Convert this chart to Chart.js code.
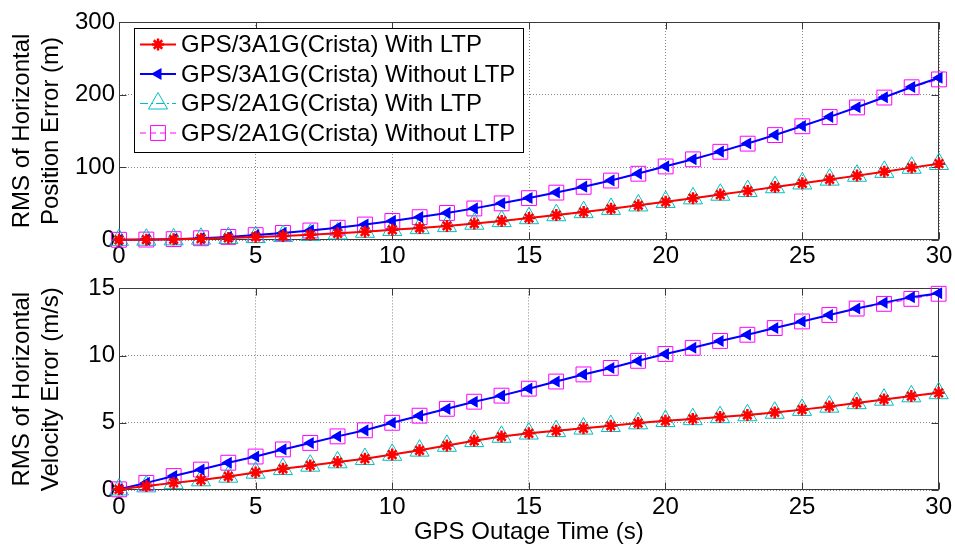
<!DOCTYPE html>
<html>
<head>
<meta charset="utf-8">
<script src="https://cdn.jsdelivr.net/npm/chart.js@4.4.1/dist/chart.umd.min.js"></script>
<style>
  html, body { margin: 0; padding: 0; background: #fff; }
  #wrap { position: relative; width: 955px; height: 546px; }
  canvas { position: absolute; left: 0; }
  #posChart { top: 0; }
  #velChart { top: 270px; }
</style>
</head>
<body>
<div id="wrap">
  <canvas id="posChart" width="955" height="270"></canvas>
  <canvas id="velChart" width="955" height="276"></canvas>
</div>
<script>
// GPS outage time, seconds
const outageTime = [0,1,2,3,4,5,6,7,8,9,10,11,12,13,14,15,16,17,18,19,20,21,22,23,24,25,26,27,28,29,30];

const seriesLabels = [
  'GPS/3A1G(Crista) With LTP',
  'GPS/3A1G(Crista) Without LTP',
  'GPS/2A1G(Crista) With LTP',
  'GPS/2A1G(Crista) Without LTP'
];

// RMS of horizontal position error (m)
const posLtp3   = [0.2,0.5,1.0,1.8,2.8,4.2,5.6,7.2,9.2,11.5,14.0,16.5,19.3,22.6,26.3,30.2,34.3,38.5,43.0,47.8,52.6,57.5,62.5,67.6,72.8,78.0,83.3,88.6,94.0,99.6,105.0];
const posNoLtp3 = [0.3,0.6,1.2,2.4,4.2,6.8,9.8,13.2,17.0,21.4,26.3,31.5,37.3,43.5,50.6,57.8,65.4,73.4,82.0,91.4,101.4,111.2,121.6,132.8,144.6,156.8,169.5,182.7,196.4,210.6,223.2];
const posLtp2   = [0.2,0.4,0.9,1.7,2.7,4.0,5.4,7.0,9.0,11.3,13.8,16.3,19.1,22.4,26.0,30.0,34.1,38.3,42.8,47.6,52.4,57.3,62.3,67.4,72.6,77.8,83.1,88.4,93.8,99.4,104.6];
const posNoLtp2 = [0.3,0.6,1.2,2.4,4.2,6.7,9.7,13.1,16.9,21.3,26.2,31.4,37.2,43.4,50.4,57.6,65.2,73.2,81.8,91.2,101.2,111.0,121.4,132.6,144.4,156.5,169.2,182.4,196.0,210.2,221.0];

// RMS of horizontal velocity error (m/s)
const velLtp3   = [0.05,0.29,0.53,0.74,1.01,1.31,1.58,1.83,2.08,2.33,2.64,2.95,3.31,3.66,3.98,4.22,4.40,4.59,4.78,4.98,5.15,5.29,5.44,5.58,5.77,5.98,6.22,6.48,6.74,6.99,7.23];
const velNoLtp3 = [0.05,0.53,1.04,1.52,2.03,2.49,3.02,3.50,3.99,4.44,5.00,5.53,6.04,6.57,7.02,7.54,8.07,8.60,9.08,9.61,10.12,10.58,11.09,11.55,12.05,12.54,13.02,13.50,13.94,14.35,14.64];
const velLtp2   = [0.04,0.27,0.51,0.72,0.99,1.29,1.56,1.81,2.06,2.31,2.62,2.93,3.29,3.64,3.96,4.20,4.38,4.57,4.76,4.96,5.13,5.27,5.42,5.56,5.75,5.96,6.20,6.46,6.72,6.97,7.20];
const velNoLtp2 = [0.05,0.53,1.04,1.52,2.03,2.49,3.02,3.50,3.99,4.44,5.00,5.53,6.04,6.57,7.02,7.54,8.07,8.60,9.08,9.61,10.12,10.58,11.09,11.55,12.05,12.54,13.02,13.50,13.85,14.22,14.60];

const FONT = 'Liberation Sans, Arial, Helvetica, sans-serif';
const FONT_SIZE = 24;

// Line and marker appearance for each of the four series
const seriesStyles = [
  { color: '#ff0000', width: 2, dash: [], marker: 'star', radius: 6, rotation: 0, fill: false, markerWidth: 2.5 },
  { color: '#0000ff', width: 2, dash: [], marker: 'triangle', radius: 5.5, rotation: -90, fill: true, markerWidth: 1.5 },
  { color: '#00bfbf', width: 1, dash: [8,3,2,3], marker: 'triangle', radius: 11, rotation: 0, fill: false, markerWidth: 1 },
  { color: '#ff00ff', width: 1, dash: [6,4], marker: 'rect', radius: 10.5, rotation: 0, fill: false, markerWidth: 1 }
];

function toPoints(values) {
  return outageTime.map((t, i) => ({ x: t, y: values[i] }));
}

function buildDatasets(seriesValues) {
  return seriesValues.map((vals, i) => {
    const s = seriesStyles[i];
    return {
      label: seriesLabels[i],
      data: toPoints(vals),
      borderColor: s.color,
      backgroundColor: s.color,
      borderWidth: s.width,
      borderDash: s.dash,
      pointStyle: s.marker,
      pointRadius: s.radius,
      pointHoverRadius: s.radius,
      pointRotation: s.rotation,
      pointBorderColor: s.color,
      pointBackgroundColor: s.fill ? s.color : 'rgba(0,0,0,0)',
      pointBorderWidth: s.markerWidth,
      tension: 0,
      clip: false
    };
  });
}

// Axes box with inward tick marks on all four sides
const framePlugin = {
  id: 'frame',
  beforeDatasetsDraw(chart) {
    const { ctx, chartArea: a, scales } = chart;
    const L = Math.round(a.left) + 0.5, R = Math.round(a.right) - 0.5;
    const T = Math.round(a.top) + 0.5, B = Math.round(a.bottom) - 0.5;
    const len = 7;
    ctx.save();
    ctx.strokeStyle = '#3a3a3a';
    ctx.lineWidth = 1;
    ctx.setLineDash([]);
    ctx.beginPath();
    scales.x.ticks.forEach(t => {
      const px = Math.round(scales.x.getPixelForValue(t.value)) + 0.5;
      ctx.moveTo(px, B); ctx.lineTo(px, B - len);
      ctx.moveTo(px, T); ctx.lineTo(px, T + len);
    });
    scales.y.ticks.forEach(t => {
      const py = Math.round(scales.y.getPixelForValue(t.value)) + 0.5;
      ctx.moveTo(L, py); ctx.lineTo(L + len, py);
      ctx.moveTo(R, py); ctx.lineTo(R - len, py);
    });
    ctx.stroke();
    ctx.strokeRect(L, T, R - L, B - T);
    ctx.restore();
  }
};

function drawMarker(ctx, s, x, y) {
  ctx.save();
  ctx.strokeStyle = s.color;
  ctx.fillStyle = s.fill ? s.color : 'rgba(0,0,0,0)';
  ctx.lineWidth = s.markerWidth;
  ctx.setLineDash([]);
  Chart.helpers.drawPoint(ctx, {
    pointStyle: s.marker, radius: s.radius, rotation: s.rotation, borderWidth: s.markerWidth
  }, x, y);
  ctx.restore();
}

// Boxed legend with line samples and markers
const boxLegendPlugin = {
  id: 'boxLegend',
  afterDraw(chart) {
    const ctx = chart.ctx;
    const box = { x: 134.5, y: 28.5, w: 389, h: 124 };
    ctx.save();
    ctx.fillStyle = '#ffffff';
    ctx.fillRect(box.x, box.y, box.w, box.h);
    ctx.strokeStyle = '#000000';
    ctx.lineWidth = 1;
    ctx.strokeRect(box.x, box.y, box.w, box.h);
    ctx.font = FONT_SIZE + 'px ' + FONT;
    ctx.textBaseline = 'middle';
    ctx.textAlign = 'left';
    seriesLabels.forEach((label, i) => {
      const s = seriesStyles[i];
      const y = 44.5 + i * 29.5;
      ctx.save();
      ctx.strokeStyle = s.color;
      ctx.lineWidth = s.width;
      ctx.setLineDash(s.dash);
      ctx.beginPath();
      ctx.moveTo(140, y);
      ctx.lineTo(176, y);
      ctx.stroke();
      ctx.restore();
      drawMarker(ctx, s, 158, y);
      ctx.fillStyle = '#000000';
      ctx.fillText(label, 181, y + 1);
    });
    ctx.restore();
  }
};

function makeChart(canvasId, seriesValues, yMax, yStep, yTitle, showXTitle, padTop, xAxisHeight, xTickPad, extraPlugins) {
  return new Chart(document.getElementById(canvasId), {
    type: 'line',
    data: { datasets: buildDatasets(seriesValues) },
    options: {
      responsive: false,
      animation: false,
      devicePixelRatio: 1,
      layout: { padding: { top: padTop, right: 16, left: 0, bottom: 0 } },
      plugins: { legend: { display: false }, tooltip: { enabled: false } },
      scales: {
        x: {
          type: 'linear',
          min: 0, max: 30,
          afterFit(scale) { scale.height = xAxisHeight; },
          ticks: { stepSize: 5, color: '#000', padding: xTickPad, font: { family: FONT, size: FONT_SIZE }, maxRotation: 0 },
          grid: { color: '#888888', lineWidth: 1, drawTicks: false },
          border: { display: false, dash: [1, 2] },
          title: {
            display: showXTitle, text: 'GPS Outage Time (s)', color: '#000',
            font: { family: FONT, size: FONT_SIZE, lineHeight: 1.1 }, padding: { top: 0, bottom: 0 }
          }
        },
        y: {
          type: 'linear',
          min: 0, max: yMax,
          afterFit(scale) { scale.width = 119; },
          ticks: { stepSize: yStep, color: '#000', padding: 4, font: { family: FONT, size: FONT_SIZE } },
          grid: { color: '#888888', lineWidth: 1, drawTicks: false },
          border: { display: false, dash: [1, 2] },
          title: {
            display: true, text: yTitle, color: '#000',
            font: { family: FONT, size: FONT_SIZE, lineHeight: 1.21 }, padding: { top: 8, bottom: 0 }
          }
        }
      }
    },
    plugins: [framePlugin].concat(extraPlugins)
  });
}

makeChart('posChart', [posLtp3, posNoLtp3, posLtp2, posNoLtp2], 300, 100,
  ['RMS of Horizontal', 'Position Error (m)'], false, 22, 30, 2, [boxLegendPlugin]);

makeChart('velChart', [velLtp3, velNoLtp3, velLtp2, velNoLtp2], 15, 5,
  ['RMS of Horizontal', 'Velocity Error (m/s)'], true, 13, 56, 3, []);
</script>
</body>
</html>
